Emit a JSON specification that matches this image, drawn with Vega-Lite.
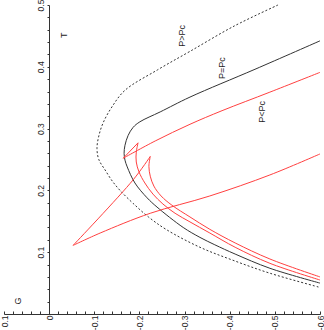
{
  "$schema": "https://vega.github.io/schema/vega-lite/v6.json",
  "autosize": {"type": "none"},
  "padding": {"left": 4, "top": 5, "right": 4, "bottom": 16},
  "width": 316,
  "height": 309,
  "background": "white",
  "config": {"view": {"stroke": null}, "font": "Liberation Sans", "axis": {"labelOverlap": false}},
  "datasets": {
    "curves": [
      {"k": "dash", "s": "D", "o": 1, "G": -0.507, "T": 0.500},
      {"k": "dash", "s": "D", "o": 2, "G": -0.410, "T": 0.466},
      {"k": "dash", "s": "D", "o": 3, "G": -0.312, "T": 0.425},
      {"k": "dash", "s": "D", "o": 4, "G": -0.240, "T": 0.395},
      {"k": "dash", "s": "D", "o": 5, "G": -0.168, "T": 0.362},
      {"k": "dash", "s": "D", "o": 6, "G": -0.139, "T": 0.335},
      {"k": "dash", "s": "D", "o": 7, "G": -0.120, "T": 0.310},
      {"k": "dash", "s": "D", "o": 8, "G": -0.110, "T": 0.288},
      {"k": "dash", "s": "D", "o": 9, "G": -0.106, "T": 0.268},
      {"k": "dash", "s": "D", "o": 10, "G": -0.110, "T": 0.250},
      {"k": "dash", "s": "D", "o": 11, "G": -0.124, "T": 0.233},
      {"k": "dash", "s": "D", "o": 12, "G": -0.140, "T": 0.215},
      {"k": "dash", "s": "D", "o": 13, "G": -0.157, "T": 0.200},
      {"k": "dash", "s": "D", "o": 14, "G": -0.186, "T": 0.179},
      {"k": "dash", "s": "D", "o": 15, "G": -0.220, "T": 0.157},
      {"k": "dash", "s": "D", "o": 16, "G": -0.261, "T": 0.136},
      {"k": "dash", "s": "D", "o": 17, "G": -0.334, "T": 0.108},
      {"k": "dash", "s": "D", "o": 18, "G": -0.407, "T": 0.087},
      {"k": "dash", "s": "D", "o": 19, "G": -0.489, "T": 0.066},
      {"k": "dash", "s": "D", "o": 20, "G": -0.600, "T": 0.043},

      {"k": "black", "s": "K", "o": 1, "G": -0.600, "T": 0.442},
      {"k": "black", "s": "K", "o": 2, "G": -0.456, "T": 0.396},
      {"k": "black", "s": "K", "o": 3, "G": -0.312, "T": 0.351},
      {"k": "black", "s": "K", "o": 4, "G": -0.246, "T": 0.327},
      {"k": "black", "s": "K", "o": 5, "G": -0.201, "T": 0.311},
      {"k": "black", "s": "K", "o": 6, "G": -0.186, "T": 0.302},
      {"k": "black", "s": "K", "o": 7, "G": -0.175, "T": 0.289},
      {"k": "black", "s": "K", "o": 8, "G": -0.168, "T": 0.273},
      {"k": "black", "s": "K", "o": 9, "G": -0.166, "T": 0.260},
      {"k": "black", "s": "K", "o": 10, "G": -0.168, "T": 0.249},
      {"k": "black", "s": "K", "o": 11, "G": -0.173, "T": 0.238},
      {"k": "black", "s": "K", "o": 12, "G": -0.190, "T": 0.212},
      {"k": "black", "s": "K", "o": 13, "G": -0.217, "T": 0.188},
      {"k": "black", "s": "K", "o": 14, "G": -0.239, "T": 0.173},
      {"k": "black", "s": "K", "o": 15, "G": -0.297, "T": 0.140},
      {"k": "black", "s": "K", "o": 16, "G": -0.334, "T": 0.124},
      {"k": "black", "s": "K", "o": 17, "G": -0.367, "T": 0.112},
      {"k": "black", "s": "K", "o": 18, "G": -0.412, "T": 0.097},
      {"k": "black", "s": "K", "o": 19, "G": -0.489, "T": 0.074},
      {"k": "black", "s": "K", "o": 20, "G": -0.600, "T": 0.050},

      {"k": "red", "s": "A1", "o": 1, "G": -0.600, "T": 0.391},
      {"k": "red", "s": "A1", "o": 2, "G": -0.489, "T": 0.359},
      {"k": "red", "s": "A1", "o": 3, "G": -0.383, "T": 0.329},
      {"k": "red", "s": "A1", "o": 4, "G": -0.312, "T": 0.307},
      {"k": "red", "s": "A1", "o": 5, "G": -0.235, "T": 0.280},
      {"k": "red", "s": "A1", "o": 6, "G": -0.164, "T": 0.252},
      {"k": "red", "s": "A2", "o": 1, "G": -0.164, "T": 0.252},
      {"k": "red", "s": "A2", "o": 2, "G": -0.197, "T": 0.277},
      {"k": "red", "s": "A3", "o": 1, "G": -0.197, "T": 0.277},
      {"k": "red", "s": "A3", "o": 2, "G": -0.193, "T": 0.262},
      {"k": "red", "s": "A3", "o": 3, "G": -0.193, "T": 0.246},
      {"k": "red", "s": "A3", "o": 4, "G": -0.199, "T": 0.230},
      {"k": "red", "s": "A3", "o": 5, "G": -0.212, "T": 0.212},
      {"k": "red", "s": "A3", "o": 6, "G": -0.230, "T": 0.194},
      {"k": "red", "s": "A3", "o": 7, "G": -0.252, "T": 0.178},
      {"k": "red", "s": "A3", "o": 8, "G": -0.279, "T": 0.163},
      {"k": "red", "s": "A3", "o": 9, "G": -0.312, "T": 0.149},
      {"k": "red", "s": "A3", "o": 10, "G": -0.356, "T": 0.131},
      {"k": "red", "s": "A3", "o": 11, "G": -0.412, "T": 0.108},
      {"k": "red", "s": "A3", "o": 12, "G": -0.489, "T": 0.082},
      {"k": "red", "s": "A3", "o": 13, "G": -0.600, "T": 0.055},

      {"k": "red", "s": "B1", "o": 1, "G": -0.600, "T": 0.259},
      {"k": "red", "s": "B1", "o": 2, "G": -0.489, "T": 0.225},
      {"k": "red", "s": "B1", "o": 3, "G": -0.356, "T": 0.191},
      {"k": "red", "s": "B1", "o": 4, "G": -0.224, "T": 0.163},
      {"k": "red", "s": "B1", "o": 5, "G": -0.113, "T": 0.131},
      {"k": "red", "s": "B1", "o": 6, "G": -0.053, "T": 0.111},
      {"k": "red", "s": "B2", "o": 1, "G": -0.053, "T": 0.111},
      {"k": "red", "s": "B2", "o": 2, "G": -0.186, "T": 0.217},
      {"k": "red", "s": "B2", "o": 3, "G": -0.224, "T": 0.255},
      {"k": "red", "s": "B3", "o": 1, "G": -0.224, "T": 0.255},
      {"k": "red", "s": "B3", "o": 2, "G": -0.221, "T": 0.239},
      {"k": "red", "s": "B3", "o": 3, "G": -0.224, "T": 0.223},
      {"k": "red", "s": "B3", "o": 4, "G": -0.232, "T": 0.207},
      {"k": "red", "s": "B3", "o": 5, "G": -0.248, "T": 0.191},
      {"k": "red", "s": "B3", "o": 6, "G": -0.272, "T": 0.176},
      {"k": "red", "s": "B3", "o": 7, "G": -0.312, "T": 0.157},
      {"k": "red", "s": "B3", "o": 8, "G": -0.356, "T": 0.137},
      {"k": "red", "s": "B3", "o": 9, "G": -0.412, "T": 0.115},
      {"k": "red", "s": "B3", "o": 10, "G": -0.489, "T": 0.089},
      {"k": "red", "s": "B3", "o": 11, "G": -0.600, "T": 0.060}
    ],
    "labels": [
      {"G": -0.294, "T": 0.450, "text": "P>Pc"},
      {"G": -0.383, "T": 0.398, "text": "P=Pc"},
      {"G": -0.472, "T": 0.327, "text": "P<Pc"},
      {"G": -0.033, "T": 0.451, "text": "T"},
      {"G": 0.069, "T": 0.021, "text": "G"}
    ]
  },
  "layer": [
    {
      "data": {"name": "curves"},
      "transform": [{"filter": "datum.k === 'dash'"}],
      "mark": {"type": "line", "color": "#333333", "strokeWidth": 1, "strokeDash": [2, 2], "interpolate": "catmull-rom"},
      "encoding": {
        "x": {"field": "G", "type": "quantitative", "scale": {"domain": [-0.6, 0.1], "reverse": true, "nice": false, "zero": false},
          "axis": {
            "values": [-0.6, -0.58, -0.56, -0.54, -0.52, -0.5, -0.48, -0.46, -0.44, -0.42, -0.4, -0.38, -0.36, -0.34, -0.32, -0.3, -0.28, -0.26, -0.24, -0.22, -0.2, -0.18, -0.16, -0.14, -0.12, -0.1, -0.08, -0.06, -0.04, -0.02, 0, 0.02, 0.04, 0.06, 0.08, 0.1],
            "tickCount": 1000,
            "labelExpr": "abs(datum.value*10 - round(datum.value*10)) < 0.0001 ? replace(format(datum.value, '.1~f'), '\u2212', '-') : ''",
            "title": null, "grid": false, "labelAngle": 270, "labelFontSize": 8.5, "labelColor": "#222222",
            "labelFont": "Liberation Sans", "labelOverlap": false, "labelBound": false, "labelFlush": false,
            "labelAlign": "right", "labelBaseline": "middle",
            "tickSize": -3, "tickColor": "#333333", "domainColor": "#333333", "labelPadding": 4
          }},
        "y": {"field": "T", "type": "quantitative", "scale": {"domain": [0, 0.5], "nice": false},
          "axis": {
            "values": [0, 0.02, 0.04, 0.06, 0.08, 0.1, 0.12, 0.14, 0.16, 0.18, 0.2, 0.22, 0.24, 0.26, 0.28, 0.3, 0.32, 0.34, 0.36, 0.38, 0.4, 0.42, 0.44, 0.46, 0.48, 0.5],
            "tickCount": 1000,
            "labelExpr": "(datum.value > 0.05 && abs(datum.value*10 - round(datum.value*10)) < 0.0001) ? format(datum.value, '.1~f') : ''",
            "title": null, "grid": false, "labelAngle": 270, "labelFontSize": 8.5, "labelColor": "#222222",
            "labelFont": "Liberation Sans", "labelOverlap": false, "labelBound": false, "labelFlush": false,
            "offset": -45, "tickSize": 2, "tickColor": "#333333", "domainColor": "#333333", "labelPadding": 2,
            "labelAlign": "center", "labelBaseline": "bottom"
          }},
        "order": {"field": "o", "type": "quantitative"}
      }
    },
    {
      "data": {"name": "curves"},
      "transform": [{"filter": "datum.k === 'black'"}],
      "mark": {"type": "line", "color": "#333333", "strokeWidth": 1, "interpolate": "catmull-rom"},
      "encoding": {
        "x": {"field": "G", "type": "quantitative"},
        "y": {"field": "T", "type": "quantitative"},
        "order": {"field": "o", "type": "quantitative"}
      }
    },
    {
      "data": {"name": "curves"},
      "transform": [{"filter": "datum.k === 'red'"}],
      "mark": {"type": "line", "color": "#ff4040", "strokeWidth": 1, "interpolate": "catmull-rom"},
      "encoding": {
        "x": {"field": "G", "type": "quantitative"},
        "y": {"field": "T", "type": "quantitative"},
        "detail": {"field": "s"},
        "order": {"field": "o", "type": "quantitative"}
      }
    },
    {
      "data": {"name": "labels"},
      "mark": {"type": "text", "angle": 270, "align": "center", "baseline": "middle", "fontSize": 9, "font": "Liberation Sans", "color": "#222222"},
      "encoding": {
        "x": {"field": "G", "type": "quantitative"},
        "y": {"field": "T", "type": "quantitative"},
        "text": {"field": "text"}
      }
    }
  ]
}
